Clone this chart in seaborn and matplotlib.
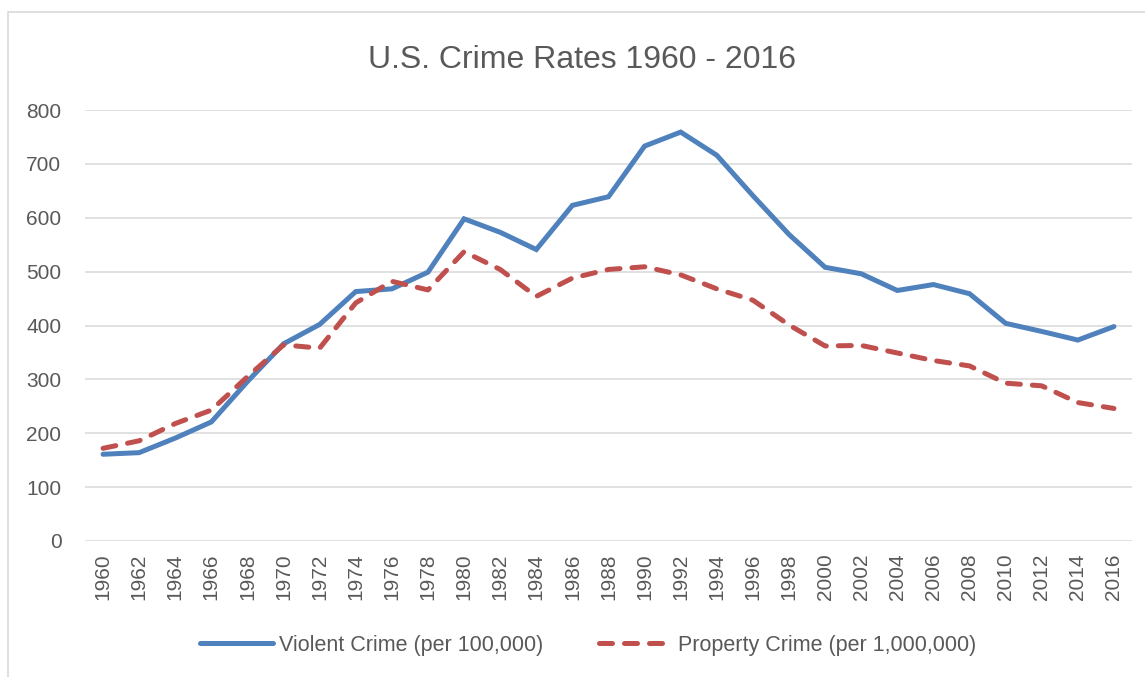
import seaborn as sns
import pandas as pd
import numpy as np
import matplotlib.pyplot as plt
import matplotlib.patches as mpatches

years = list(range(1960, 2017, 2))
violent = [161, 164, 191, 221, 296, 366, 402, 463, 468, 499,
           598, 573, 541, 623, 639, 733, 759, 716, 641, 569,
           508, 496, 465, 476, 459, 404, 389, 373, 398]
property_ = [172, 186, 218, 243, 305, 364, 358, 442, 482, 466,
             537, 504, 454, 488, 504, 509, 494, 468, 447, 401,
             362, 363, 349, 335, 325, 293, 288, 257, 246]
labels = ['Violent Crime (per 100,000)', 'Property Crime (per 1,000,000)']
yticks = [0, 100, 200, 300, 400, 500, 600, 700, 800]

sns.set_style('white')
plt.rcParams['font.family'] = ['Liberation Sans', 'DejaVu Sans']
txt = '#595959'

df = pd.DataFrame({'year': years * 2,
                   'rate': violent + property_,
                   'series': [labels[0]] * len(years) + [labels[1]] * len(years)})

fig = plt.figure(figsize=(11.45, 6.77), dpi=100)
ax = fig.add_axes([85 / 1145, 1 - 541 / 677, (1132 - 85) / 1145, (541 - 110) / 677])

sns.lineplot(data=df, x='year', y='rate', hue='series', style='series',
             palette=['#4F81BD', '#C0504D'], dashes=['', (2.6, 2.4)],
             linewidth=3.6, ax=ax, legend=False)
for ln in ax.lines:
    ln.set_dash_capstyle('round')
    ln.set_solid_capstyle('round')
    ln.set_solid_joinstyle('miter')

ax.set_xlim(1959, 2017)
ax.set_ylim(0, 800)
ax.set_xticks(years)
ax.set_xticklabels([str(y) for y in years], rotation=90, fontsize=15, color=txt)
ax.set_yticks(yticks)
ax.set_yticklabels([str(v) for v in yticks], fontsize=15, color=txt)
ax.tick_params(axis='x', length=0, pad=9)
ax.tick_params(axis='y', length=0, pad=17)
ax.yaxis.grid(True, color='#D9D9D9', linewidth=1.1)
ax.set_axisbelow(True)
for s in ax.spines.values():
    s.set_visible(False)
ax.set_xlabel('')
ax.set_ylabel('')

fig.text(582 / 1145, 1 - 60 / 677, 'U.S. Crime Rates 1960 - 2016', ha='center', va='center',
         fontsize=23, color=txt)

handles = [plt.Line2D([], [], color='#4F81BD', lw=3.6, solid_capstyle='round'),
           plt.Line2D([], [], color='#C0504D', lw=3.6, dashes=(2.6, 2.4), dash_capstyle='round')]
leg = fig.legend(handles, labels, loc='center', bbox_to_anchor=(588 / 1145, 1 - 645 / 677),
                 ncol=2, frameon=False, fontsize=15.5, handlelength=3.4, handletextpad=0.25,
                 columnspacing=2.6)
for t in leg.get_texts():
    t.set_color(txt)

fig.patches.append(mpatches.Rectangle((8 / 1145, -0.1), 1.2, 1 - 11.5 / 677 + 0.1,
                                      transform=fig.transFigure, fill=False,
                                      edgecolor='#D9D9D9', linewidth=1.2))

plt.savefig('out.png', dpi=100)
